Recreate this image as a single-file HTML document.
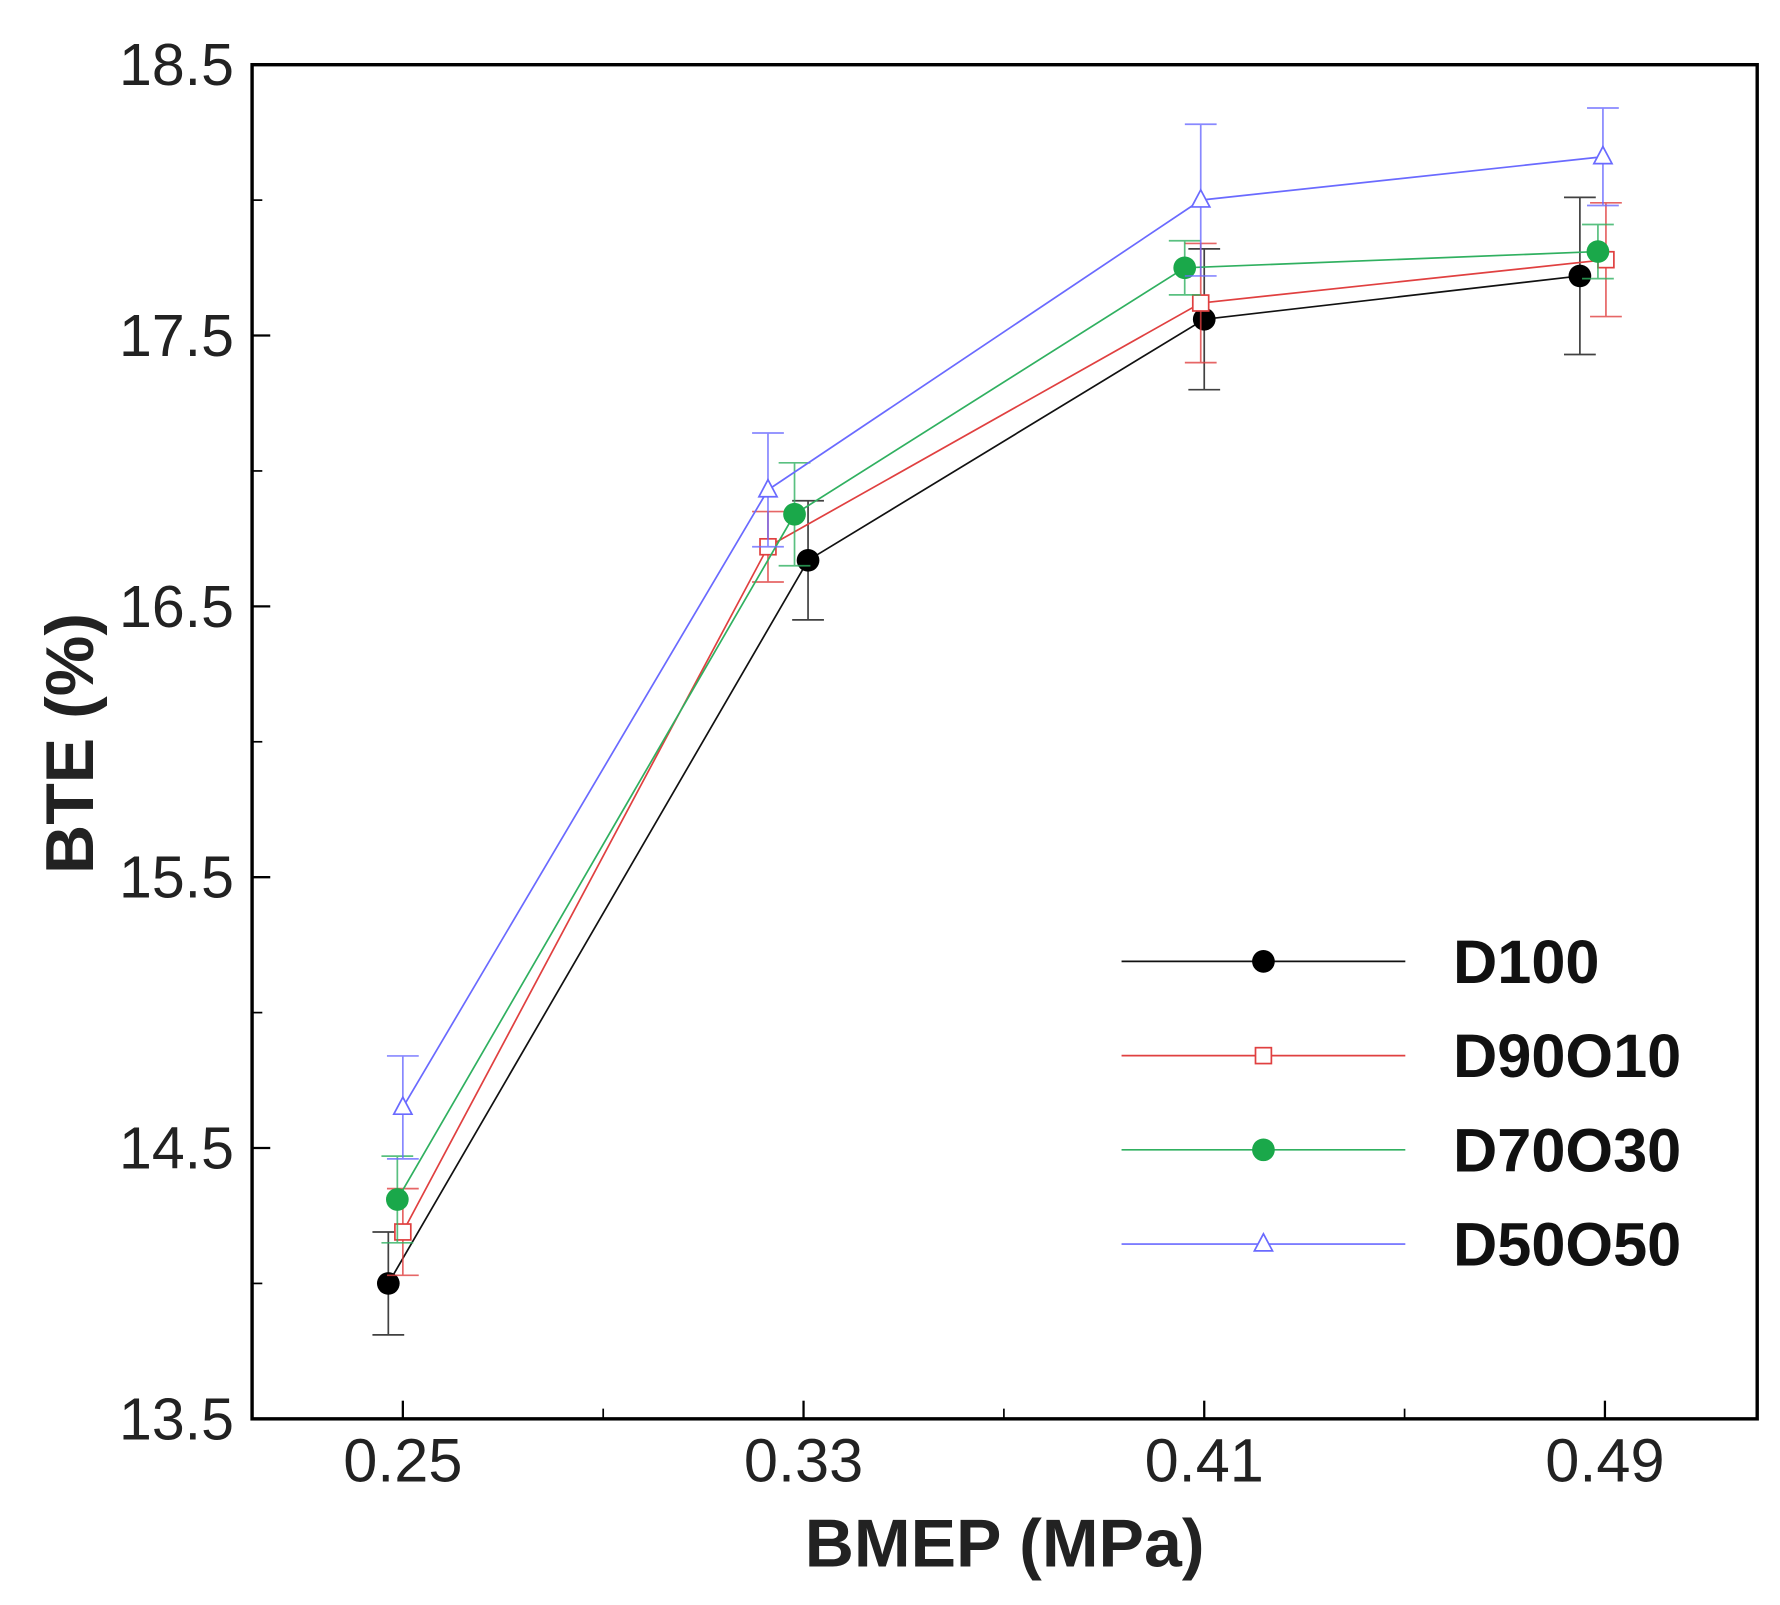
<!DOCTYPE html>
<html><head><meta charset="utf-8"><style>
html,body{margin:0;padding:0;background:#fff;}
svg{display:block;}
text{font-family:"Liberation Sans",Arial,sans-serif;}
</style></head><body>
<svg id="chart" width="1780" height="1605" viewBox="0 0 1568 1414" xmlns="http://www.w3.org/2000/svg">
<rect x="0" y="0" width="1568" height="1414" fill="#fff"/>
<g id="plot"></g>
</svg>
<script>
const xTicks = [0.25, 0.33, 0.41, 0.49];
const xTickLabels = ["0.25", "0.33", "0.41", "0.49"];
const xMinorTicks = [0.29, 0.37, 0.45];
const yTicks = [13.5, 14.5, 15.5, 16.5, 17.5, 18.5];
const yTickLabels = ["13.5", "14.5", "15.5", "16.5", "17.5", "18.5"];
const yMinorTicks = [14, 15, 16, 17, 18];
const seriesNames = ["D100", "D90O10", "D70O30", "D50O50"];
const d100X = [0.2471, 0.3309, 0.41, 0.485];
const d100Y = [14.0, 16.67, 17.56, 17.72];
const d100Err = [0.19, 0.22, 0.26, 0.29];
const d90X = [0.25, 0.3229, 0.4093, 0.4902];
const d90Y = [14.19, 16.72, 17.62, 17.78];
const d90Err = [0.16, 0.13, 0.22, 0.21];
const d70X = [0.2489, 0.3282, 0.4061, 0.4886];
const d70Y = [14.31, 16.84, 17.75, 17.81];
const d70Err = [0.16, 0.19, 0.1, 0.1];
const d50X = [0.25, 0.3229, 0.4093, 0.4896];
const d50Y = [14.65, 16.93, 18.0, 18.16];
const d50Err = [0.19, 0.21, 0.28, 0.18];

const L=222,R=1548,T=57,B=1250;
const XMIN=0.2199,XMAX=0.5204,YMIN=13.5,YMAX=18.5;
const sx=v=>L+(v-XMIN)/(XMAX-XMIN)*(R-L);
const sy=v=>B-(v-YMIN)/(YMAX-YMIN)*(B-T);
const NS="http://www.w3.org/2000/svg";
const g=document.getElementById('plot');
function mk(tag,attrs,parent){const e=document.createElementNS(NS,tag);for(const k in attrs)e.setAttribute(k,attrs[k]);(parent||g).appendChild(e);return e;}

let frame=mk('rect',{x:L,y:T,width:R-L,height:B-T,fill:'none',stroke:'#000','stroke-width':3});



xTicks.forEach((v,i)=>{
  let t=mk('line',{x1:sx(v),x2:sx(v),y1:B,y2:B-16,stroke:'#000','stroke-width':2});
  
  
  let tx=mk('text',{x:sx(v),y:B+55,'text-anchor':'middle','font-size':54,fill:'#222'});
  tx.textContent=xTickLabels[i];
  
  
});
xMinorTicks.forEach(v=>{
  let t=mk('line',{x1:sx(v),x2:sx(v),y1:B,y2:B-9,stroke:'#000','stroke-width':1.5});
  
  
});
yTicks.forEach((v,i)=>{
  let t=mk('line',{x1:L,x2:L+16,y1:sy(v),y2:sy(v),stroke:'#000','stroke-width':2});
  
  
  let tx=mk('text',{x:L-16,y:sy(v)+18,'text-anchor':'end','font-size':52,fill:'#222'});
  tx.textContent=yTickLabels[i];
  
  
});
yMinorTicks.forEach(v=>{
  let t=mk('line',{x1:L,x2:L+9,y1:sy(v),y2:sy(v),stroke:'#000','stroke-width':1.5});
  
  
});
let xt=mk('text',{x:885,y:1380,'text-anchor':'middle','font-size':60,'font-weight':'bold',fill:'#222'});
xt.textContent='BMEP (MPa)';


let yt=mk('text',{x:0,y:0,'text-anchor':'middle','font-size':60,'font-weight':'bold',fill:'#222',transform:'translate(82,655) rotate(-90)'});
yt.textContent='BTE (%)';



const colors=['#111','#e04040','#30b060','#6a6aff'];
const markerKinds=['dot','square','dot','triangle'];
const markerFill=['#000','none','#1aa84a','none'];
const allX=[d100X,d90X,d70X,d50X],allY=[d100Y,d90Y,d70Y,d50Y],allE=[d100Err,d90Err,d70Err,d50Err];

function marker(kind,cx,cy,i,parent){
  let m;
  if(kind==='dot') m=mk('circle',{cx,cy,r:10,fill:markerFill[i]},parent);
  else if(kind==='square') m=mk('rect',{x:cx-7,y:cy-7,width:14,height:14,fill:'#fff',stroke:colors[i],'stroke-width':1.5},parent);
  else m=mk('polygon',{points:`${cx},${cy-9} ${cx-8},${cy+6} ${cx+8},${cy+6}`,fill:'#fff',stroke:colors[i],'stroke-width':1.5},parent);
  return m;
}

seriesNames.forEach((name,i)=>{
  const sg=mk('g',{});
  
  
  const X=allX[i],Y=allY[i],E=allE[i];
  let pts=X.map((x,j)=>sx(x)+','+sy(Y[j])).join(' ');
  let pl=mk('polyline',{points:pts,fill:'none',stroke:colors[i],'stroke-width':1.5},sg);
  
  
  X.forEach((x,j)=>{
    const cx=sx(x),y1=sy(Y[j]+E[j]),y2=sy(Y[j]-E[j]);
    let eb=mk('path',{d:`M${cx},${y1}V${y2}M${cx-14},${y1}H${cx+14}M${cx-14},${y2}H${cx+14}`,stroke:colors[i],'stroke-width':1.5,fill:'none',opacity:0.8},sg);
    
    
  });
  X.forEach((x,j)=>{
    let m=marker(markerKinds[i],sx(x),sy(Y[j]),i,sg);
    
    
  });
  const ly=847+i*83;
  const lg=mk('g',{});
  
  
  mk('line',{x1:988,x2:1238,y1:ly,y2:ly,stroke:colors[i],'stroke-width':1.5},lg);
  marker(markerKinds[i],1113,ly,i,lg);
  let lt=mk('text',{x:1280,y:ly+19,'font-size':54,'font-weight':'bold',fill:'#111'},lg);
  lt.textContent=name;
});
</script>
</body></html>
